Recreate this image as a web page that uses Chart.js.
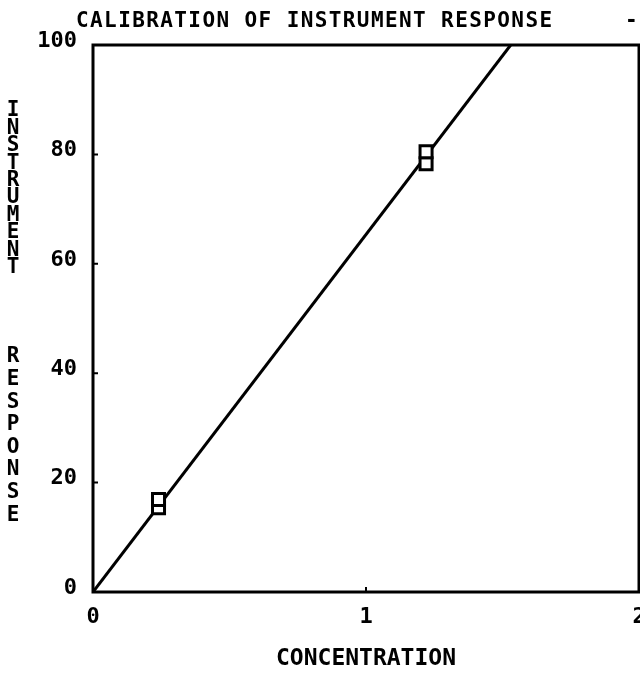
<!DOCTYPE html>
<html>
<head>
<meta charset="utf-8">
<title>Calibration of instrument response</title>
<script src="https://cdn.jsdelivr.net/npm/chart.js"></script>
<style>
	html, body { margin: 0; padding: 0; background: #fff; }
	#calChart { display: block; }
</style>
</head>
<body>
<canvas id="calChart" width="640" height="673"></canvas>
<script>
// calibration standards, each measured twice
var concentration = [0.24, 0.24, 1.22, 1.22];
var response = [15.4, 16.9, 78.3, 80.5];

// fitted calibration line (end points)
var fitConc = [0, 1.53];
var fitResponse = [0, 100];

var xTicks = [0, 1, 2];
var yTicks = [0, 20, 40, 60, 80, 100];

var chartTitle = 'CALIBRATION OF INSTRUMENT RESPONSE';
var xTitle = 'CONCENTRATION';
var yTitle = ['INSTRUMENT', 'RESPONSE'];

var plotFont = "'DejaVu Sans Mono', monospace";

var toPoints = function(xs, ys){
	return xs.map(function(x, i){ return {x: x, y: ys[i]}; });
};

// box round the plot, small inward ticks, title and the stacked y label
var framePlugin = {
	id: 'framePlugin',
	beforeDatasetsDraw: function(chart){
		var ctx = chart.ctx, a = chart.chartArea,
			xs = chart.scales.x, ys = chart.scales.y;
		ctx.save();
		ctx.strokeStyle = '#000';
		ctx.lineWidth = 3;
		ctx.strokeRect(a.left, a.top, a.right - a.left, a.bottom - a.top);
		ctx.lineWidth = 2;
		ctx.beginPath();
		yTicks.slice(1, -1).forEach(function(v){
			var y = ys.getPixelForValue(v);
			ctx.moveTo(a.left, y);
			ctx.lineTo(a.left + 5, y);
		});
		xTicks.slice(1, -1).forEach(function(v){
			var x = xs.getPixelForValue(v);
			ctx.moveTo(x, a.bottom);
			ctx.lineTo(x, a.bottom - 5);
		});
		ctx.stroke();
		ctx.restore();
	},
	afterDraw: function(chart){
		var ctx = chart.ctx;
		ctx.save();
		ctx.fillStyle = '#000';
		ctx.font = 'bold 21px ' + plotFont;
		ctx.letterSpacing = '1.4px';
		ctx.textAlign = 'left';
		ctx.textBaseline = 'alphabetic';
		ctx.fillText(chartTitle, 76, 27);
		ctx.textAlign = 'center';
		ctx.fillText('-', 632, 27);

		// y label written one letter under the other
		ctx.letterSpacing = '0px';
		ctx.textBaseline = 'middle';
		var y = 111;
		yTitle[0].split('').forEach(function(c){
			ctx.fillText(c, 13, y);
			y += 17.4;
		});
		y = 357;
		yTitle[1].split('').forEach(function(c){
			ctx.fillText(c, 13, y);
			y += 22.6;
		});
		ctx.restore();
	}
};

var ctx = document.getElementById('calChart').getContext('2d');
var calChart = new Chart(ctx, {
	type: 'scatter',
	data: {
		datasets: [{
			label: 'standards',
			data: toPoints(concentration, response),
			pointStyle: 'rect',
			pointRadius: 8.5,
			pointBorderWidth: 3,
			pointBackgroundColor: '#fff',
			pointBorderColor: '#000'
		}, {
			label: 'fit',
			data: toPoints(fitConc, fitResponse),
			showLine: true,
			borderColor: '#000',
			borderWidth: 3,
			pointRadius: 0,
			fill: false
		}]
	},
	options: {
		responsive: false,
		animation: false,
		layout: {
			autoPadding: false,
			padding: { top: 45, right: 1, left: 0, bottom: 0 }
		},
		plugins: {
			legend: { display: false },
			tooltip: { enabled: false },
			title: { display: false }
		},
		scales: {
			x: {
				type: 'linear',
				min: xTicks[0],
				max: xTicks[xTicks.length - 1],
				grid: { display: false, drawTicks: false },
				border: { display: false },
				ticks: {
					stepSize: 1,
					padding: 12,
					color: '#000',
					font: { family: plotFont, size: 22, weight: 'bold' },
					callback: function(v){ return xTicks.indexOf(v) > -1 ? String(v) : ''; }
				},
				title: {
					display: true,
					text: xTitle,
					color: '#000',
					padding: { top: 0, bottom: 0 },
					font: { family: plotFont, size: 23, weight: 'bold' }
				},
				afterFit: function(scale){
					scale.height = 81;
					scale.paddingLeft = 0;
					scale.paddingRight = 0;
				}
			},
			y: {
				type: 'linear',
				min: yTicks[0],
				max: yTicks[yTicks.length - 1],
				grid: { display: false, drawTicks: false },
				border: { display: false },
				ticks: {
					stepSize: 20,
					padding: 16,
					labelOffset: -4,
					color: '#000',
					font: { family: plotFont, size: 22, weight: 'bold' },
					callback: function(v){ return yTicks.indexOf(v) > -1 ? String(v) : ''; }
				},
				afterFit: function(scale){
					scale.width = 93;
					scale.paddingTop = 0;
					scale.paddingBottom = 0;
				}
			}
		}
	},
	plugins: [framePlugin]
});
</script>
</body>
</html>
